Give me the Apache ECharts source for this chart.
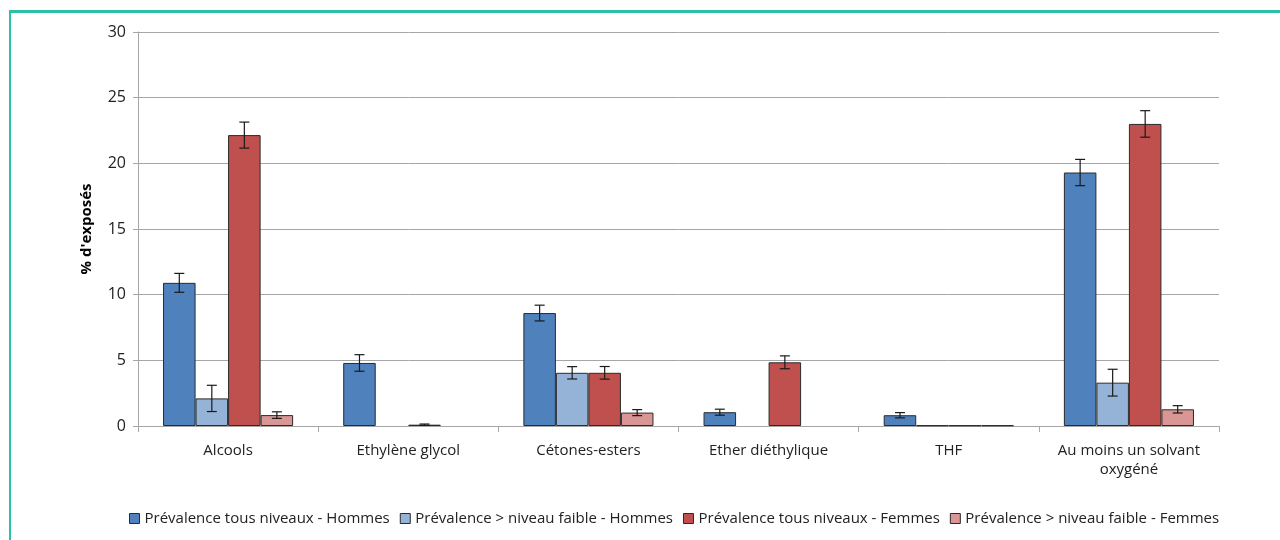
<!DOCTYPE html>
<html>
<head>
<meta charset="utf-8">
<script src="https://cdn.jsdelivr.net/npm/echarts@6/dist/echarts.min.js"></script>
<style>
  html, body { margin: 0; padding: 0; background: #ffffff; }
  #frame { position: absolute; left: 9px; top: 10px; width: 1290px; height: 560px;
           border-left: 2px solid #2cc1a6; border-top: 3px solid #2cc1a6; box-sizing: border-box; }
  #chart { position: absolute; left: 0; top: 0; width: 1280px; height: 540px; }
</style>
</head>
<body>
<div id="frame"></div>
<div id="chart"></div>
<script>
// Catégories de solvants oxygénés
const categories = ['Alcools', 'Ethylène glycol', 'Cétones-esters', 'Ether diéthylique', 'THF', 'Au moins un solvant\noxygéné'];
const seriesNames = [
  'Prévalence tous niveaux - Hommes',
  'Prévalence > niveau faible - Hommes',
  'Prévalence tous niveaux - Femmes',
  'Prévalence > niveau faible - Femmes'
];
// Prévalences (%)
const hommesTous    = [10.9, 4.8, 8.6, 1.05, 0.82, 19.3];
const hommesFaible  = [2.1, 0, 4.05, 0, 0.05, 3.3];
const femmesTous    = [22.15, 0.1, 4.05, 4.85, 0.05, 23.0];
const femmesFaible  = [0.83, 0, 1.02, 0, 0.05, 1.27];
// Demi-largeur des intervalles de confiance (%)
const hommesTousErr   = [0.72, 0.63, 0.6, 0.23, 0.2, 1.0];
const hommesFaibleErr = [1.0, 0, 0.47, 0, 0, 1.02];
const femmesTousErr   = [0.99, 0.05, 0.48, 0.49, 0, 1.01];
const femmesFaibleErr = [0.25, 0, 0.23, 0, 0, 0.28];

const values = [hommesTous, hommesFaible, femmesTous, femmesFaible];
const errors = [hommesTousErr, hommesFaibleErr, femmesTousErr, femmesFaibleErr];
const colors = ['#4f81bd', '#95b3d7', '#c0504d', '#d99694'];

const FONT = '"Open Sans", Lato, sans-serif';
const CAT_GAP = 0.278; // fraction of the category left empty

const chart = echarts.init(document.getElementById('chart'));

const barSeries = values.map((vals, i) => ({
  name: seriesNames[i],
  type: 'bar',
  // a zero prevalence draws no bar at all
  data: vals.map(v => (v === 0 ? null : v)),
  barGap: '0%',
  barCategoryGap: (CAT_GAP * 100) + '%',
  itemStyle: { color: colors[i], borderColor: '#2b2b2b', borderWidth: 1 },
  emphasis: { disabled: true },
  z: 2
}));

// Error bars drawn over each bar, positioned from the category band
const errData = [];
values.forEach((vals, s) => {
  vals.forEach((v, c) => {
    if (errors[s][c] > 0) errData.push([c, v, errors[s][c], s]);
  });
});

const errSeries = {
  type: 'custom',
  name: 'err',
  data: errData,
  z: 5,
  silent: true,
  encode: { x: 0, y: 1 },
  renderItem: function (params, api) {
    const c = api.value(0), v = api.value(1), e = api.value(2), s = api.value(3);
    const band = api.size([1, 0])[0];
    const groupW = band * (1 - CAT_GAP);
    const barW = groupW / 4;
    const center = api.coord([c, v])[0];
    const x = center - groupW / 2 + barW * (s + 0.5);
    const yTop = api.coord([c, v + e])[1];
    const yBot = api.coord([c, Math.max(v - e, 0)])[1];
    const cap = 5;
    const style = { stroke: '#1a1a1a', lineWidth: 1.2 };
    return {
      type: 'group',
      children: [
        { type: 'line', shape: { x1: x, y1: yTop, x2: x, y2: yBot }, style: style },
        { type: 'line', shape: { x1: x - cap, y1: yTop, x2: x + cap, y2: yTop }, style: style },
        { type: 'line', shape: { x1: x - cap, y1: yBot, x2: x + cap, y2: yBot }, style: style }
      ]
    };
  }
};

chart.setOption({
  animation: false,
  textStyle: { fontFamily: FONT },
  grid: { left: 138, right: 61, top: 32, bottom: 114, containLabel: false },
  legend: {
    data: seriesNames,
    bottom: 9,
    left: 124,
    itemWidth: 10,
    itemHeight: 10,
    itemGap: 10,
    icon: 'rect',
    textStyle: { fontFamily: FONT, fontSize: 15, color: '#222' },
    itemStyle: { borderColor: '#2b2b2b', borderWidth: 1 }
  },
  xAxis: {
    type: 'category',
    data: categories,
    axisLine: { lineStyle: { color: '#a6a6a6', width: 1 } },
    axisTick: { show: true, length: 6, lineStyle: { color: '#a6a6a6' }, alignWithLabel: false },
    axisLabel: { fontFamily: FONT, fontSize: 15, color: '#222', margin: 15, lineHeight: 19, interval: 0 }
  },
  yAxis: {
    type: 'value',
    min: 0, max: 30, interval: 5,
    name: "% d'exposés",
    nameLocation: 'middle',
    nameGap: 44,
    nameRotate: 90,
    nameTextStyle: { fontFamily: FONT, fontSize: 15, fontWeight: 'bold', color: '#000' },
    axisLine: { show: true, lineStyle: { color: '#a6a6a6' } },
    axisTick: { show: true, length: 5, lineStyle: { color: '#a6a6a6' } },
    axisLabel: { fontFamily: FONT, fontSize: 16, color: '#222', margin: 12 },
    splitLine: { lineStyle: { color: '#a6a6a6', width: 1 } }
  },
  series: barSeries.concat([errSeries])
});
</script>
</body>
</html>
